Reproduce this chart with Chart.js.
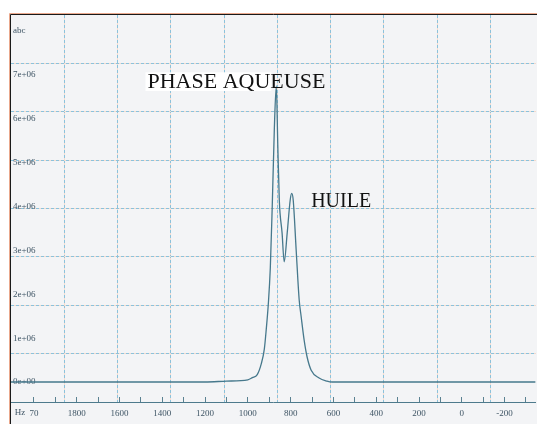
<!DOCTYPE html>
<html><head><meta charset="utf-8">
<script src="https://cdn.jsdelivr.net/npm/chart.js@4"></script>
<style>html,body{margin:0;padding:0;background:#fff;overflow:hidden}</style>
</head><body>
<canvas id="c" width="537" height="424"></canvas>
<script>
// ---- data ----
const hz = [2107, 1600, 1200, 1100, 1000, 979, 956, 937, 923, 914, 904, 895, 886, 876, 867, 860, 853, 840, 830, 816, 802, 795, 788, 774, 760, 751, 737, 723, 704, 667, 630, 606, 400, -345];
const intensity = [0, 0, 0, 0.02e6, 0.05e6, 0.10e6, 0.17e6, 0.42e6, 0.75e6, 1.20e6, 1.80e6, 2.60e6, 4.00e6, 5.80e6, 6.75e6, 5.40e6, 4.15e6, 3.40e6, 2.74e6, 3.40e6, 4.15e6, 4.30e6, 4.15e6, 3.00e6, 1.87e6, 1.50e6, 0.96e6, 0.57e6, 0.27e6, 0.09e6, 0.02e6, 0, 0, 0];
const xTickValues = [2000, 1900, 1800, 1700, 1600, 1500, 1400, 1300, 1200, 1100, 1000, 900, 800, 700, 600, 500, 400, 300, 200, 100, 0, -100, -200, -300];
const xTickLabels = {2000: '70', 1800: '1800', 1600: '1600', 1400: '1400', 1200: '1200', 1000: '1000', 800: '800', 600: '600', 400: '400', 200: '200', 0: '0', '-200': '-200'};
const yTickValues = [0, 1e6, 2e6, 3e6, 4e6, 5e6, 6e6, 7e6, 8e6];
const yTickLabels = ['0e+00', '1e+06', '2e+06', '3e+06', '4e+06', '5e+06', '6e+06', '7e+06', 'abc'];
const xUnit = 'Hz';
const notes = [
  {text: 'PHASE AQUEUSE', hz: 1469, value: 6.70e6, size: 22, box: 890},
  {text: 'HUILE', hz: 704, value: 3.99e6, size: 20}
];
const gridCols = [1, 2, 3, 4, 5, 6, 7, 8, 9];
const gridRows = [1, 2, 3, 4, 5, 6, 7];

const tickFont = {family: 'Liberation Serif', size: 9};
const tickColor = '#3f5565';

const frame = {
  id: 'frame',
  beforeDraw(chart) {
    const {ctx, chartArea: a, width, height} = chart;
    ctx.save();
    ctx.fillStyle = '#f3f4f6';
    ctx.fillRect(a.left, a.top, width - a.left, height - a.top);
    ctx.restore();
  },
  afterDraw(chart) {
    const {ctx, chartArea: a, width, height, scales} = chart;
    ctx.save();
    ctx.lineWidth = 1;
    ctx.strokeStyle = '#eaa88c';
    ctx.beginPath();
    ctx.moveTo(a.left - 1.5, height); ctx.lineTo(a.left - 1.5, a.top - 1.5); ctx.lineTo(width, a.top - 1.5);
    ctx.stroke();
    ctx.strokeStyle = '#1a1a1a';
    ctx.beginPath();
    ctx.moveTo(a.left - 0.5, height); ctx.lineTo(a.left - 0.5, a.top - 0.5); ctx.lineTo(width, a.top - 0.5);
    ctx.stroke();
    ctx.fillStyle = tickColor;
    ctx.font = '9px "Liberation Serif"';
    ctx.textBaseline = 'middle';
    ctx.textAlign = 'center';
    ctx.fillText(xUnit, a.left + 9, a.bottom + 11);
    notes.forEach(n => {
      const x = scales.x.getPixelForValue(n.hz);
      const y = scales.y.getPixelForValue(n.value);
      ctx.font = n.size + 'px "Liberation Serif"';
      ctx.textAlign = 'left';
      ctx.textBaseline = 'alphabetic';
      if (n.box) {
        const bx = scales.x.getPixelForValue(n.box);
        ctx.fillStyle = '#ffffff';
        ctx.fillRect(x - 2, y - n.size * 0.72, bx - x + 2, n.size * 0.85);
      }
      ctx.fillStyle = '#111111';
      ctx.fillText(n.text, x, y);
    });
    ctx.restore();
  }
};

const points = hz.map((h, i) => ({x: h, y: intensity[i]}));

new Chart(document.getElementById('c'), {
  type: 'line',
  data: {datasets: [{
    data: points,
    borderColor: '#46788c',
    borderWidth: 1.3,
    pointRadius: 0,
    cubicInterpolationMode: 'monotone',
    fill: false
  }]},
  options: {
    responsive: false,
    animation: false,
    devicePixelRatio: 1,
    layout: {padding: {left: 11, top: 15, right: 0, bottom: 0}},
    plugins: {legend: {display: false}, tooltip: {enabled: false}},
    scales: {
      x: {
        type: 'linear', position: 'bottom', reverse: true, min: -345, max: 2107,
        afterBuildTicks: s => { s.ticks = xTickValues.map(v => ({value: v})); },
        afterFit: s => { s.height = 22; },
        grid: {drawOnChartArea: false, drawTicks: true, tickLength: -5, color: '#5a8191'},
        border: {display: true, color: '#4d7a8c', width: 1},
        ticks: {autoSkip: false, maxRotation: 0, padding: 11, font: tickFont, color: tickColor,
          callback: v => (xTickLabels[v] !== undefined ? xTickLabels[v] : '')}
      },
      y: {
        type: 'linear', position: 'left', min: -0.456e6, max: 8.368e6,
        afterBuildTicks: s => { s.ticks = yTickValues.map(v => ({value: v})); },
        afterFit: s => { s.width = 0; },
        grid: {display: false, drawTicks: false},
        border: {display: false},
        ticks: {mirror: true, padding: 2, font: tickFont, color: tickColor,
          callback: v => yTickLabels[yTickValues.indexOf(v)]}
      },
      xo: {
        type: 'linear', position: 'top', min: 0, max: 9.85,
        afterBuildTicks: s => { s.ticks = gridCols.map(v => ({value: v})); },
        afterFit: s => { s.height = 0; },
        grid: {color: '#f4dacd', lineWidth: 1, drawTicks: false},
        border: {display: false},
        ticks: {display: false}
      },
      xg: {
        type: 'linear', position: 'top', min: 0, max: 9.85,
        afterBuildTicks: s => { s.ticks = gridCols.map(v => ({value: v})); },
        afterFit: s => { s.height = 0; },
        grid: {color: '#8cc2db', lineWidth: 1, drawTicks: false},
        border: {display: false, dash: [3, 2]},
        ticks: {display: false}
      },
      yo: {
        type: 'linear', position: 'right', min: 0, max: 8, reverse: true,
        afterBuildTicks: s => { s.ticks = gridRows.map(v => ({value: v})); },
        afterFit: s => { s.width = 0; },
        grid: {color: '#f4dacd', lineWidth: 1, drawTicks: false},
        border: {display: false},
        ticks: {display: false}
      },
      yg: {
        type: 'linear', position: 'right', min: 0, max: 8, reverse: true,
        afterBuildTicks: s => { s.ticks = gridRows.map(v => ({value: v})); },
        afterFit: s => { s.width = 0; },
        grid: {color: '#8cc2db', lineWidth: 1, drawTicks: false},
        border: {display: false, dash: [3, 2]},
        ticks: {display: false}
      }
    }
  },
  plugins: [frame]
});
</script>
</body></html>
